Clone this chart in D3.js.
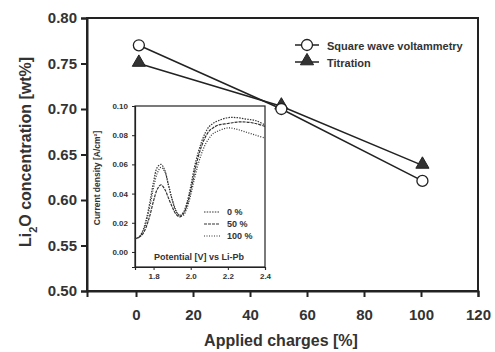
<!DOCTYPE html>
<html>
<head>
<meta charset="utf-8">
<script src="https://cdn.jsdelivr.net/npm/d3@7"></script>
<style>
  body { margin: 0; background: #fff; }
  svg { display: block; font-family: "Liberation Sans", Arial, sans-serif; font-weight: bold; }
</style>
</head>
<body>
<div id="chart"></div>
<script>
// main chart data
const charges = [1, 51, 100.5];
const swv = [0.770, 0.700, 0.621];
const titration = [0.750, 0.703, 0.638];
const xTicks = [0, 20, 40, 60, 80, 100, 120];
const yTicks = [0.50, 0.55, 0.60, 0.65, 0.70, 0.75, 0.80];

// inset data: current density vs potential
const potential = [1.70, 1.72, 1.74, 1.76, 1.78, 1.80, 1.82, 1.84, 1.86, 1.88, 1.90, 1.92, 1.94, 1.96,
                   1.98, 2.00, 2.02, 2.04, 2.06, 2.08, 2.10, 2.12, 2.15, 2.20, 2.25, 2.30, 2.35, 2.40];
const cd0 = [0.009, 0.010, 0.014, 0.022, 0.034, 0.048, 0.058, 0.060, 0.056, 0.046, 0.036, 0.028, 0.025, 0.027,
             0.034, 0.045, 0.058, 0.068, 0.076, 0.082, 0.086, 0.088, 0.090, 0.092, 0.092, 0.091, 0.090, 0.087];
const cd50 = [0.009, 0.010, 0.012, 0.017, 0.025, 0.035, 0.043, 0.046, 0.043, 0.037, 0.031, 0.026, 0.024, 0.026,
              0.032, 0.042, 0.054, 0.065, 0.073, 0.079, 0.083, 0.085, 0.087, 0.088, 0.089, 0.089, 0.088, 0.086];
const cd100 = [0.009, 0.010, 0.013, 0.020, 0.031, 0.044, 0.054, 0.058, 0.055, 0.046, 0.036, 0.029, 0.025, 0.025,
               0.030, 0.039, 0.050, 0.060, 0.068, 0.074, 0.078, 0.081, 0.083, 0.085, 0.084, 0.082, 0.080, 0.078];
const insetXTicks = [1.8, 2.0, 2.2, 2.4];
const insetYTicks = [0.00, 0.02, 0.04, 0.06, 0.08, 0.10];
const insetNames = ["0 %", "50 %", "100 %"];

const width = 495, height = 352;
const svg = d3.select("#chart").append("svg")
    .attr("width", width)
    .attr("height", height);

const x = d3.scaleLinear().domain([-17.2, 120]).range([87, 478]);
const y = d3.scaleLinear().domain([0.5, 0.8]).range([291, 18]);

// frame
svg.append("rect")
    .attr("x", x.range()[0]).attr("y", y.range()[1])
    .attr("width", x.range()[1] - x.range()[0])
    .attr("height", y.range()[0] - y.range()[1])
    .attr("fill", "none").attr("stroke", "#222").attr("stroke-width", 2);

const xAxis = svg.append("g")
    .attr("transform", "translate(0," + y.range()[0] + ")")
    .call(d3.axisBottom(x).tickValues(xTicks).tickSize(6).tickPadding(12).tickFormat(d3.format("d")));
const yAxis = svg.append("g")
    .attr("transform", "translate(" + x.range()[0] + ",0)")
    .call(d3.axisLeft(y).tickValues(yTicks).tickSize(6).tickPadding(4).tickFormat(d3.format(".2f")));

[xAxis, yAxis].forEach(function(g) {
  g.select(".domain").attr("stroke", "#222").attr("stroke-width", 2);
  g.selectAll(".tick line").attr("stroke", "#222").attr("stroke-width", 2);
  g.selectAll(".tick text").attr("fill", "#333").style("font-size", "15px").style("font-family", "Liberation Sans, Arial").style("font-weight", "bold");
});

svg.append("text")
    .attr("x", 281).attr("y", 346)
    .attr("text-anchor", "middle")
    .attr("fill", "#333")
    .style("font-size", "16px")
    .text("Applied charges [%]");

const yt = svg.append("text")
    .attr("transform", "translate(31,152) rotate(-90)")
    .attr("text-anchor", "middle")
    .attr("fill", "#333")
    .style("font-size", "16px");
yt.append("tspan").text("Li");
yt.append("tspan").attr("baseline-shift", "sub").style("font-size", "11px").text("2");
yt.append("tspan").text("O concentration [wt%]");

// main series
const line = d3.line()
    .x(function(d, i) { return x(charges[i]); })
    .y(function(d) { return y(d); });

svg.append("path").datum(swv)
    .attr("d", line).attr("fill", "none").attr("stroke", "#222").attr("stroke-width", 1.5);
svg.append("path").datum(titration)
    .attr("d", line).attr("fill", "none").attr("stroke", "#222").attr("stroke-width", 1.5);

const tri = d3.symbol().type(d3.symbolTriangle).size(75);

svg.selectAll(".tri").data(titration).enter().append("path")
    .attr("class", "tri")
    .attr("transform", function(d, i) { return "translate(" + x(charges[i]) + "," + (y(d) - 1) + ")"; })
    .attr("d", tri)
    .attr("fill", "#333").attr("stroke", "#222");

svg.selectAll(".circ").data(swv).enter().append("circle")
    .attr("class", "circ")
    .attr("cx", function(d, i) { return x(charges[i]); })
    .attr("cy", function(d) { return y(d); })
    .attr("r", 5.5)
    .attr("fill", "#fff").attr("stroke", "#222").attr("stroke-width", 1.3);

// legend
const leg = svg.append("g").attr("transform", "translate(295,45)");
leg.append("line").attr("x1", 0).attr("x2", 24).attr("y1", 0).attr("y2", 0).attr("stroke", "#222").attr("stroke-width", 1.5);
leg.append("circle").attr("cx", 12).attr("cy", 0).attr("r", 5.5).attr("fill", "#fff").attr("stroke", "#222").attr("stroke-width", 1.3);
leg.append("text").attr("x", 32).attr("y", 4.5).attr("fill", "#333").style("font-size", "11px").text("Square wave voltammetry");
leg.append("line").attr("x1", 0).attr("x2", 24).attr("y1", 17).attr("y2", 17).attr("stroke", "#222").attr("stroke-width", 1.5);
leg.append("path").attr("transform", "translate(12,16)").attr("d", tri).attr("fill", "#333").attr("stroke", "#222");
leg.append("text").attr("x", 32).attr("y", 21.5).attr("fill", "#333").style("font-size", "11px").text("Titration");

// inset
const ix = d3.scaleLinear().domain([1.7, 2.4]).range([135, 265]);
const iy = d3.scaleLinear().domain([-0.0103, 0.10]).range([267, 106]);

const inset = svg.append("g");
inset.append("rect")
    .attr("x", ix.range()[0]).attr("y", iy.range()[1])
    .attr("width", ix.range()[1] - ix.range()[0])
    .attr("height", iy.range()[0] - iy.range()[1])
    .attr("fill", "#fff").attr("stroke", "#222").attr("stroke-width", 1.2);

const ixAxis = inset.append("g")
    .attr("transform", "translate(0," + iy.range()[0] + ")")
    .call(d3.axisBottom(ix).tickValues(insetXTicks).tickSize(3).tickPadding(3).tickFormat(d3.format(".1f")));
const iyAxis = inset.append("g")
    .attr("transform", "translate(" + ix.range()[0] + ",0)")
    .call(d3.axisLeft(iy).tickValues(insetYTicks).tickSize(3).tickPadding(4).tickFormat(d3.format(".2f")));
[ixAxis, iyAxis].forEach(function(g) {
  g.select(".domain").attr("stroke", "#222").attr("stroke-width", 1.2);
  g.selectAll(".tick line").attr("stroke", "#222");
  g.selectAll(".tick text").attr("fill", "#333").style("font-size", "8px").style("font-family", "Liberation Sans, Arial").style("font-weight", "bold");
});

const iline = d3.line()
    .x(function(d, i) { return ix(potential[i]); })
    .y(function(d) { return iy(d); })
    .curve(d3.curveCatmullRom);

const insetSeries = [cd0, cd50, cd100];
const dashes = ["1.5,1.2", "3,1", "1,1.5"];
insetSeries.forEach(function(s, k) {
  inset.append("path").datum(s)
      .attr("d", iline)
      .attr("fill", "none").attr("stroke", "#333")
      .attr("stroke-width", 1.2)
      .attr("stroke-dasharray", dashes[k]);
});

const ileg = inset.append("g").attr("transform", "translate(204,212)");
insetNames.forEach(function(n, k) {
  ileg.append("line").attr("x1", 0).attr("x2", 16).attr("y1", k * 12).attr("y2", k * 12)
      .attr("stroke", "#333").attr("stroke-width", 1.2).attr("stroke-dasharray", dashes[k]);
  ileg.append("text").attr("x", 23).attr("y", k * 12 + 3).attr("fill", "#333").style("font-size", "9px").text(n);
});

inset.append("text")
    .attr("x", 199).attr("y", 260)
    .attr("text-anchor", "middle").attr("fill", "#333")
    .style("font-size", "9px")
    .text("Potential [V] vs Li-Pb");

inset.append("text")
    .attr("transform", "translate(100,178) rotate(-90)")
    .attr("text-anchor", "middle").attr("fill", "#333")
    .style("font-size", "8.5px")
    .text("Current density [A/cm²]");
</script>
</body>
</html>
